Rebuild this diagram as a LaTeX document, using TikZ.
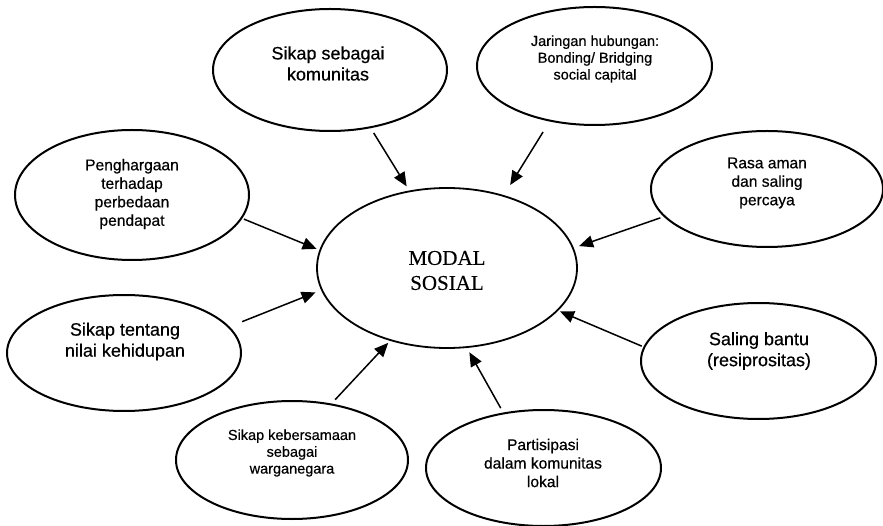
\documentclass[tikz,border=0pt]{standalone}
\usepackage{fontspec}
\setmainfont{Liberation Sans}[BoldFont={Liberation Sans},BoldFeatures={FakeBold=0.5}]
\newfontfamily\modalfont{Liberation Serif}[FakeBold=0.3]
\usetikzlibrary{shapes.geometric,arrows.meta}
\begin{document}
\begin{tikzpicture}[x=1pt,y=-1pt,
  oval/.style={draw,ellipse,line width=2pt,inner sep=0pt},
  bigtxt/.style={font=\bfseries\fontsize{18}{21}\selectfont,align=center,inner sep=0pt},
  midtxt/.style={font=\bfseries\fontsize{15.6}{18.5}\selectfont,align=center,inner sep=0pt},
  smalltxt/.style={font=\bfseries\fontsize{14.5}{16.8}\selectfont,align=center,inner sep=0pt},
  arr/.style={line width=1.5pt,-{Triangle[length=14pt,width=12pt]}}]
\useasboundingbox (0,0) rectangle (883,526);
% central
\node[oval,line width=1.8pt,minimum width=260pt,minimum height=160pt] (c) at (447,268) {};
\node[font=\modalfont\fontsize{21}{25}\selectfont,align=center,inner sep=0pt] (ct) at (447,270.5) {MODAL\\SOSIAL};
% satellites
\node[oval,minimum width=234pt,minimum height=122pt] (s1) at (330,70) {};
\node[bigtxt] (s1t) at (328,63.5) {Sikap sebagai\\komunitas};
\node[oval,minimum width=235pt,minimum height=118pt] (j) at (594.5,66) {};
\node[smalltxt] (jt) at (595,59) {Jaringan hubungan:\\Bonding/ Bridging\\social capital};
\node[oval,minimum width=234pt,minimum height=130pt] (p) at (132,195) {};
\node[midtxt] (pt) at (132,194) {Penghargaan\\terhadap\\perbedaan\\pendapat};
\node[oval,minimum width=232pt,minimum height=116pt] (r) at (767,189) {};
\node[midtxt] (rt) at (767,183) {Rasa aman\\dan saling\\percaya};
\node[oval,minimum width=234pt,minimum height=116pt] (t) at (124,353) {};
\node[bigtxt] (tt) at (125,341.5) {Sikap tentang\\nilai kehidupan};
\node[oval,minimum width=235pt,minimum height=116pt] (sb) at (758.5,361) {};
\node[bigtxt] (sbt) at (759,351) {Saling bantu\\(resiprositas)};
\node[oval,minimum width=232pt,minimum height=118pt] (k) at (292,460) {};
\node[smalltxt] (kt) at (292,453) {Sikap kebersamaan\\sebagai\\warganegara};
\node[oval,minimum width=235pt,minimum height=116pt] (pa) at (543.5,468) {};
\node[midtxt] (pat) at (543,463) {Partisipasi\\dalam komunitas\\lokal};
% arrows
\draw[arr,shorten <=5.6pt,shorten >=4.9pt] (s1.-55.3) -- (c.116.3);
\draw[arr,shorten <=12.3pt,shorten >=11.9pt] (j.-129.4) -- (c.52.9);
\draw[arr,shorten <=1.8pt,shorten >=3pt] (p.-12.8) -- (c.172.1);
\draw[arr,shorten <=3.6pt,shorten >=5.6pt] (r.-165.8) -- (c.9.5);
\draw[arr,shorten <=13.5pt,shorten >=6pt] (t.14.4) -- (c.190.9);
\draw[arr,shorten <=1.9pt,shorten >=2pt] (sb.173.6) -- (c.-21.6);
\draw[arr,shorten <=5.3pt,shorten >=2.7pt] (k.55.7) -- (c.-128.6);
\draw[arr,shorten <=5pt,shorten >=5pt] (pa.126.9) -- (c.-76.6);
\end{tikzpicture}
\end{document}
